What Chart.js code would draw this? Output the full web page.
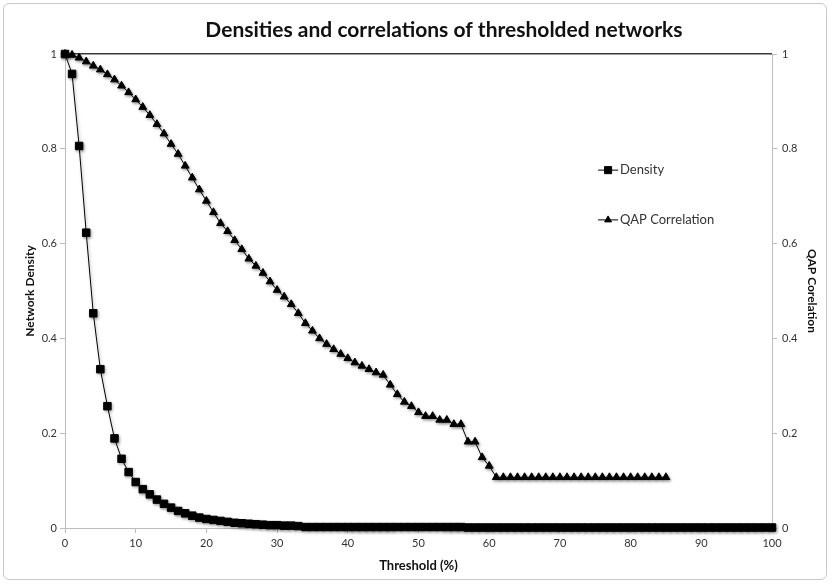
<!DOCTYPE html>
<html>
<head>
<meta charset="utf-8">
<script src="https://cdn.jsdelivr.net/npm/chart.js@4.4.1/dist/chart.umd.min.js"></script>
<style>
  html, body { margin: 0; padding: 0; background: #fff; }
  #wrap { position: relative; width: 832px; height: 585px; }
  #frame { position: absolute; left: 3px; top: 3px; width: 824px; height: 577px;
           border: 1px solid #c9c9c9; border-radius: 6px; box-sizing: border-box; }
  #chart { position: absolute; left: 0; top: 0; }
</style>
</head>
<body>
<div id="wrap">
  <div id="frame"></div>
  <canvas id="chart" width="832" height="585"></canvas>
</div>
<script>
const thresholds = [
  0, 1, 2, 3, 4, 5, 6, 7, 8, 9, 10, 11, 12, 13, 14, 15, 16, 17, 18, 19,
  20, 21, 22, 23, 24, 25, 26, 27, 28, 29, 30, 31, 32, 33, 34, 35, 36, 37, 38, 39,
  40, 41, 42, 43, 44, 45, 46, 47, 48, 49, 50, 51, 52, 53, 54, 55, 56, 57, 58, 59,
  60, 61, 62, 63, 64, 65, 66, 67, 68, 69, 70, 71, 72, 73, 74, 75, 76, 77, 78, 79,
  80, 81, 82, 83, 84, 85, 86, 87, 88, 89, 90, 91, 92, 93, 94, 95, 96, 97, 98, 99, 100
];

const density = [
  1.000, 0.958, 0.806, 0.623, 0.453, 0.335, 0.257, 0.189, 0.146, 0.118,
  0.097, 0.082, 0.071, 0.060, 0.051, 0.043, 0.036, 0.031, 0.026, 0.022,
  0.019, 0.017, 0.015, 0.013, 0.011, 0.010, 0.009, 0.008, 0.007, 0.006,
  0.006, 0.005, 0.005, 0.004, 0.002, 0.002, 0.002, 0.002, 0.002, 0.002,
  0.002, 0.002, 0.002, 0.002, 0.002, 0.002, 0.002, 0.002, 0.002, 0.002,
  0.002, 0.002, 0.002, 0.002, 0.002, 0.002, 0.002, 0.001, 0.001, 0.001,
  0.001, 0.001, 0.001, 0.001, 0.001, 0.001, 0.001, 0.001, 0.001, 0.001,
  0.001, 0.001, 0.001, 0.001, 0.001, 0.001, 0.001, 0.001, 0.001, 0.001,
  0.001, 0.001, 0.001, 0.001, 0.001, 0.001, 0.001, 0.001, 0.001, 0.001,
  0.001, 0.001, 0.001, 0.001, 0.001, 0.001, 0.001, 0.001, 0.001, 0.001, 0.001
];

// QAP correlation only goes up to 85%
const qap = [
  1.000, 0.998, 0.992, 0.984, 0.975, 0.967, 0.957, 0.946, 0.933, 0.919,
  0.904, 0.888, 0.871, 0.852, 0.832, 0.810, 0.789, 0.764, 0.739, 0.714,
  0.690, 0.666, 0.643, 0.626, 0.607, 0.588, 0.568, 0.553, 0.538, 0.520,
  0.502, 0.488, 0.472, 0.453, 0.432, 0.416, 0.400, 0.388, 0.377, 0.367,
  0.358, 0.349, 0.342, 0.335, 0.328, 0.323, 0.302, 0.282, 0.266, 0.257,
  0.244, 0.236, 0.236, 0.228, 0.228, 0.219, 0.219, 0.182, 0.182, 0.149,
  0.131, 0.107, 0.107, 0.107, 0.107, 0.107, 0.107, 0.107, 0.107, 0.107,
  0.107, 0.107, 0.107, 0.107, 0.107, 0.107, 0.107, 0.107, 0.107, 0.107,
  0.107, 0.107, 0.107, 0.107, 0.107, 0.107
];

const yTicks = [0, 0.2, 0.4, 0.6, 0.8, 1];
const chartTitle = "Densities and correlations of thresholded networks";

const FONT = "Lato, 'Open Sans', sans-serif";
const textColor = "#333";
const axisGray = "#bdbdbd";

const toPoints = (vals) => vals.map((v, i) => ({ x: thresholds[i], y: v }));
const fmtTick = (v) => String(Math.round(v * 10) / 10);

// soft drop shadow on the markers, like the Excel original
const shadowPlugin = {
  id: "shadow",
  beforeDatasetsDraw(chart) {
    const ctx = chart.ctx;
    ctx.save();
    ctx.shadowColor = "rgba(0,0,0,0.35)";
    ctx.shadowBlur = 3;
    ctx.shadowOffsetX = 1;
    ctx.shadowOffsetY = 1.5;
  },
  afterDatasetsDraw(chart) {
    chart.ctx.restore();
  }
};

// title in the original is a bit right of centre, so draw it ourselves
const titlePlugin = {
  id: "offsetTitle",
  afterDraw(chart) {
    const { ctx, chartArea } = chart;
    ctx.save();
    ctx.fillStyle = "#111";
    ctx.font = "bold 21px " + FONT;
    ctx.textAlign = "center";
    ctx.textBaseline = "middle";
    ctx.fillText(chartTitle, chartArea.left + chartArea.width * 0.536, chartArea.top - 24);
    ctx.restore();
  }
};

// legend sits inside the plot area
const insideLegend = {
  id: "insideLegend",
  afterDraw(chart) {
    const { ctx, chartArea } = chart;
    const x0 = chartArea.left + chartArea.width * 0.754;
    const rows = [chartArea.top + chartArea.height * 0.245, chartArea.top + chartArea.height * 0.35];
    ctx.save();
    chart.data.datasets.forEach((ds, i) => {
      const y = rows[i];
      ctx.strokeStyle = ds.borderColor;
      ctx.lineWidth = 1;
      ctx.beginPath();
      ctx.moveTo(x0, y);
      ctx.lineTo(x0 + 20, y);
      ctx.stroke();
      ctx.fillStyle = ds.pointBackgroundColor;
      ctx.strokeStyle = ds.pointBorderColor;
      Chart.helpers.drawPoint(ctx, {
        pointStyle: ds.pointStyle, rotation: 0, borderWidth: 1, radius: ds.legendRadius
      }, x0 + 10, y);
      ctx.fillStyle = textColor;
      ctx.font = "13px " + FONT;
      ctx.textBaseline = "middle";
      ctx.textAlign = "left";
      ctx.fillText(ds.label, x0 + 22, y);
    });
    ctx.restore();
  }
};

new Chart(document.getElementById("chart"), {
  type: "line",
  data: {
    datasets: [
      {
        label: "Density",
        data: toPoints(density),
        borderColor: "#000",
        borderWidth: 1,
        pointStyle: "rect",
        pointRadius: 5.3,
        legendRadius: 5,
        pointBackgroundColor: "#000",
        pointBorderColor: "#000",
        pointBorderWidth: 1,
        tension: 0,
        clip: false,
        yAxisID: "y"
      },
      {
        label: "QAP Correlation",
        data: toPoints(qap),
        borderColor: "#000",
        borderWidth: 1,
        pointStyle: "triangle",
        pointRadius: 4.5,
        legendRadius: 4,
        pointBackgroundColor: "#000",
        pointBorderColor: "#000",
        pointBorderWidth: 1,
        tension: 0,
        clip: false,
        yAxisID: "y2"
      }
    ]
  },
  options: {
    responsive: false,
    animation: false,
    layout: { padding: { left: 8, right: 8, top: 54, bottom: 8 } },
    plugins: {
      legend: { display: false },
      tooltip: { enabled: false },
      title: { display: false }
    },
    scales: {
      x: {
        type: "linear",
        min: 0,
        max: 100,
        ticks: { stepSize: 10, color: textColor, font: { family: FONT, size: 11 }, padding: 4, maxRotation: 0 },
        grid: { drawOnChartArea: false, color: axisGray, tickLength: 5 },
        border: { color: axisGray },
        title: {
          display: true,
          text: "Threshold (%)",
          color: "#111",
          font: { family: FONT, size: 13, weight: "bold" },
          padding: { top: 0, bottom: 3 }
        },
        afterFit(scale) { scale.height = 49; }
      },
      y: {
        position: "left",
        min: 0,
        max: 1,
        afterBuildTicks(scale) { scale.ticks = yTicks.map(v => ({ value: v })); },
        ticks: { color: textColor, font: { family: FONT, size: 11 }, padding: 3, callback: fmtTick },
        grid: {
          color: (c) => (c.tick && c.tick.value === 1 ? "#3a3a3a" : "rgba(0,0,0,0)"),
          lineWidth: (c) => (c.tick && c.tick.value === 1 ? 1.5 : 1),
          tickColor: axisGray,
          tickLength: 5
        },
        border: { color: axisGray },
        title: {
          display: true,
          text: "Network Density",
          color: "#111",
          font: { family: FONT, size: 12, weight: "bold" },
          padding: { top: 15, bottom: 0 }
        },
        afterFit(scale) { scale.width = 57; }
      },
      y2: {
        position: "right",
        min: 0,
        max: 1,
        afterBuildTicks(scale) { scale.ticks = yTicks.map(v => ({ value: v })); },
        ticks: { color: textColor, font: { family: FONT, size: 11 }, padding: 5, callback: fmtTick },
        grid: { drawOnChartArea: false, color: axisGray, tickLength: 5 },
        border: { color: axisGray },
        title: {
          display: true,
          text: "QAP Corelation",
          color: "#111",
          font: { family: FONT, size: 12, weight: "bold" },
          padding: { top: 5, bottom: 0 }
        },
        afterFit(scale) { scale.width = 52; }
      }
    }
  },
  plugins: [shadowPlugin, titlePlugin, insideLegend]
});
</script>
</body>
</html>
